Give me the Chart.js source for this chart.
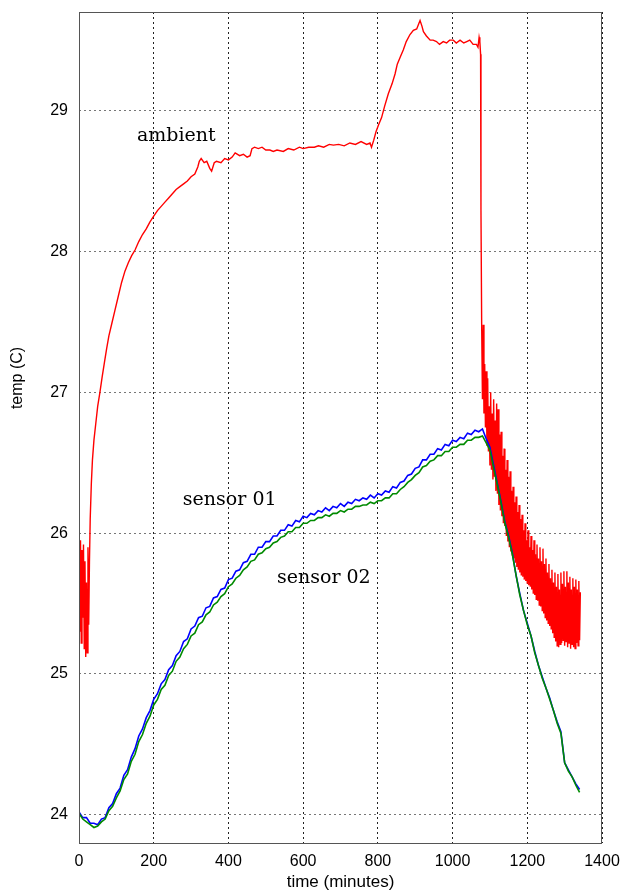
<!DOCTYPE html>
<html>
<head>
<meta charset="utf-8">
<title>temperature log</title>
<script src="https://cdn.jsdelivr.net/npm/chart.js@4.4.1/dist/chart.umd.min.js"></script>
<style>
  html, body { margin: 0; padding: 0; background: #fff; }
  canvas { display: block; }
</style>
</head>
<body>
<canvas id="tempChart" width="626" height="896"></canvas>
<script>
// ambient probe: minutes / degrees C
const ambientTime = [
  0, 2, 4, 6, 8, 10, 12, 14, 16, 18, 20, 22, 24, 26, 28,
  30, 33, 36, 40, 45, 50, 56, 62, 68, 74, 80, 88, 96, 105, 114, 123, 132, 141,
  150, 160, 170, 180, 190, 200, 210, 220, 230, 240, 250, 260, 270, 280, 290,
  300, 310, 318, 322, 327, 335, 342, 350, 355, 362, 368, 380, 390, 400, 410,
  418, 430, 440, 450, 458, 463, 470, 480, 490, 500, 511, 520, 530, 547, 560,
  575, 590, 600, 615, 630, 641, 655, 670, 681, 695, 710, 725, 740, 755, 770,
  779, 783, 789, 795, 802, 810, 818, 828, 838, 846, 852, 860, 868, 876, 886,
  895, 904, 910, 913, 918, 922, 930, 940, 948, 957, 965, 975, 984, 992, 1002,
  1010, 1020, 1030, 1038, 1046, 1055, 1064, 1068, 1071, 1073, 1075, 1076,
  1078, 1080, 1082, 1084, 1086, 1088, 1090, 1092, 1094, 1096, 1098, 1100,
  1102, 1104, 1106, 1108, 1110, 1112, 1114, 1116, 1118, 1120, 1122, 1124,
  1126, 1128, 1130, 1132, 1134, 1136, 1138, 1140, 1142, 1144, 1146, 1148,
  1150, 1152, 1154, 1156, 1158, 1160, 1162, 1164, 1166, 1168, 1170, 1172,
  1174, 1176, 1178, 1180, 1182, 1184, 1186, 1188, 1190, 1192, 1194, 1196,
  1198, 1200, 1202, 1204, 1206, 1208, 1210, 1212, 1214, 1216, 1218, 1220,
  1222, 1224, 1226, 1228, 1230, 1232, 1234, 1236, 1238, 1240, 1242, 1244,
  1246, 1248, 1250, 1252, 1254, 1256, 1258, 1260, 1262, 1264, 1266, 1268,
  1270, 1272, 1274, 1276, 1278, 1280, 1282, 1284, 1286, 1288, 1290, 1292,
  1294, 1296, 1298, 1300, 1302, 1304, 1306, 1308, 1310, 1312, 1314, 1316,
  1318, 1320, 1322, 1324, 1326, 1328, 1330, 1332, 1334, 1336, 1338, 1340, 1342
];
const ambientTemp = [
  25.93, 25.30, 25.95, 25.22, 25.88, 25.40, 25.92, 25.18, 25.80, 25.12, 25.65, 25.15, 25.90, 25.35, 25.80,
  26.10, 26.35, 26.52, 26.66, 26.78, 26.90, 27.00, 27.11, 27.21, 27.31, 27.40, 27.49, 27.58, 27.68, 27.78, 27.86, 27.92, 27.97,
  28.01, 28.07, 28.12, 28.16, 28.21, 28.25, 28.29, 28.32, 28.35, 28.38, 28.41, 28.44, 28.46, 28.48, 28.50,
  28.53, 28.55, 28.60, 28.64, 28.66, 28.63, 28.64, 28.59, 28.57, 28.63, 28.64, 28.63, 28.66, 28.65, 28.67,
  28.70, 28.68, 28.69, 28.67, 28.68, 28.73, 28.74, 28.73, 28.74, 28.72, 28.72, 28.71, 28.72, 28.71, 28.73,
  28.72, 28.74, 28.73, 28.74, 28.74, 28.75, 28.74, 28.76, 28.755, 28.76, 28.75, 28.77, 28.76, 28.78, 28.76,
  28.77, 28.74, 28.79, 28.85, 28.90, 28.95, 29.03, 29.12, 29.19, 29.26, 29.33, 29.38, 29.43, 29.49, 29.54,
  29.57, 29.58, 29.62, 29.64, 29.60, 29.56, 29.53, 29.50, 29.50, 29.49, 29.47, 29.49, 29.48, 29.50, 29.50,
  29.48, 29.50, 29.48, 29.49, 29.50, 29.47, 29.47, 29.45, 29.52, 29.49, 29.40, 28.30,
  27.45, 26.95, 27.48, 26.85, 27.20, 26.75, 27.15, 26.62, 27.10, 26.58, 26.90, 26.48,
  27.00, 26.45, 26.85, 26.38, 26.95, 26.40, 26.80, 26.30, 26.92, 26.28, 26.88, 26.20,
  26.70, 26.16, 26.72, 26.12, 26.55, 26.07, 26.60, 26.05, 26.45, 25.98, 26.52, 25.94,
  26.40, 25.90, 26.44, 25.87, 26.30, 25.84, 26.33, 25.82, 26.22, 25.79, 26.26, 25.76,
  26.15, 25.74, 26.20, 25.72, 26.10, 25.70, 26.13, 25.69, 26.02, 25.67, 26.07, 25.66,
  25.95, 25.64, 26.02, 25.63, 25.90, 25.62, 25.98, 25.60, 25.88, 25.57, 25.95, 25.56,
  25.85, 25.53, 25.92, 25.52, 25.82, 25.49, 25.90, 25.48, 25.80, 25.45, 25.89, 25.43,
  25.78, 25.40, 25.82, 25.38, 25.72, 25.36, 25.78, 25.34, 25.68, 25.32, 25.74, 25.29,
  25.65, 25.26, 25.72, 25.23, 25.62, 25.20, 25.71, 25.19, 25.60, 25.21, 25.72, 25.22,
  25.64, 25.24, 25.73, 25.20, 25.62, 25.23, 25.73, 25.19, 25.65, 25.22, 25.69, 25.18,
  25.60, 25.21, 25.68, 25.19, 25.62, 25.18, 25.67, 25.22, 25.60, 25.20, 25.66, 25.24, 25.58
];

// both sensors were logged on the same clock
const sensorTime = [
  0, 10, 20, 30, 40, 50, 60, 70, 80, 90, 100, 110, 120, 130, 140, 150, 160, 170, 180, 190,
  200, 210, 220, 230, 240, 250, 260, 270, 280, 290, 300, 310, 320, 330, 340, 350, 360, 370, 380, 390,
  400, 410, 420, 430, 440, 450, 460, 470, 480, 490, 500, 510, 520, 530, 540, 550, 560, 570, 580, 590,
  600, 610, 620, 630, 640, 650, 660, 670, 680, 690, 700, 710, 720, 730, 740, 750, 760, 770, 780, 790,
  800, 810, 820, 830, 840, 850, 860, 870, 880, 890, 900, 910, 920, 930, 940, 950, 960, 970, 980, 990,
  1000, 1010, 1020, 1030, 1040, 1050, 1060, 1070, 1080, 1090, 1100, 1110, 1120, 1130, 1140, 1150, 1160, 1170, 1180, 1190,
  1200, 1210, 1220, 1230, 1240, 1250, 1260, 1270, 1280, 1290, 1300, 1310, 1320, 1330, 1340
];
const sensor01 = [
  24.02, 23.98, 23.98, 23.94, 23.94, 23.93, 23.97, 23.98, 24.05, 24.08, 24.15, 24.19, 24.28, 24.32, 24.41, 24.47, 24.56, 24.61, 24.69, 24.74,
  24.82, 24.86, 24.93, 24.96, 25.03, 25.06, 25.13, 25.16, 25.23, 25.25, 25.32, 25.34, 25.40, 25.41, 25.47, 25.48, 25.54, 25.55, 25.60, 25.61,
  25.67, 25.68, 25.73, 25.74, 25.79, 25.80, 25.85, 25.85, 25.90, 25.90, 25.94, 25.94, 25.98, 25.98, 26.02, 26.02, 26.06, 26.05, 26.09, 26.08,
  26.12, 26.11, 26.14, 26.13, 26.16, 26.15, 26.18, 26.16, 26.19, 26.18, 26.21, 26.19, 26.22, 26.21, 26.24, 26.23, 26.25, 26.24, 26.27, 26.25,
  26.28, 26.27, 26.30, 26.29, 26.33, 26.32, 26.36, 26.37, 26.41, 26.42, 26.46, 26.47, 26.52, 26.52, 26.56, 26.56, 26.60, 26.59, 26.63, 26.62,
  26.66, 26.65, 26.68, 26.67, 26.71, 26.70, 26.73, 26.72, 26.74, 26.67, 26.61, 26.48, 26.35, 26.22, 26.08, 25.98, 25.86, 25.70, 25.57, 25.45,
  25.36, 25.27, 25.16, 25.06, 24.98, 24.90, 24.83, 24.74, 24.66, 24.59, 24.37, 24.32, 24.27, 24.22, 24.18
];
const sensor02 = [
  24.01, 23.97, 23.95, 23.93, 23.91, 23.92, 23.95, 23.97, 24.03, 24.06, 24.12, 24.17, 24.25, 24.29, 24.38, 24.43, 24.52, 24.57, 24.65, 24.70,
  24.78, 24.82, 24.89, 24.92, 24.99, 25.02, 25.09, 25.12, 25.18, 25.21, 25.27, 25.29, 25.35, 25.37, 25.42, 25.44, 25.49, 25.51, 25.55, 25.57,
  25.62, 25.64, 25.68, 25.70, 25.74, 25.76, 25.80, 25.81, 25.85, 25.86, 25.89, 25.90, 25.93, 25.94, 25.97, 25.98, 26.01, 26.01, 26.04, 26.04,
  26.07, 26.07, 26.09, 26.09, 26.11, 26.11, 26.13, 26.12, 26.14, 26.14, 26.16, 26.15, 26.17, 26.17, 26.19, 26.19, 26.20, 26.20, 26.22, 26.21,
  26.23, 26.23, 26.25, 26.25, 26.28, 26.28, 26.31, 26.33, 26.36, 26.38, 26.41, 26.43, 26.47, 26.48, 26.51, 26.52, 26.55, 26.55, 26.58, 26.58,
  26.61, 26.61, 26.63, 26.63, 26.66, 26.66, 26.68, 26.68, 26.69, 26.64, 26.59, 26.46, 26.34, 26.21, 26.07, 25.97, 25.85, 25.70, 25.56, 25.45,
  25.35, 25.27, 25.15, 25.06, 24.97, 24.90, 24.82, 24.74, 24.65, 24.58, 24.37, 24.31, 24.27, 24.21, 24.16
];

const xTicks = [0, 200, 400, 600, 800, 1000, 1200, 1400];
const yTicks = [24, 25, 26, 27, 28, 29];

// curve labels placed in data coordinates (left edge, vertical middle)
const curveLabels = [
  { text: 'ambient', x: 155, y: 28.82 },
  { text: 'sensor 01', x: 278, y: 26.235 },
  { text: 'sensor 02', x: 530, y: 25.68 }
];

const toPoints = (xs, ys) => xs.map((x, i) => ({ x: x, y: ys[i] }));

// frame, curve labels and the rotated y title
const decorations = {
  id: 'decorations',
  afterDatasetsDraw(chart) {
    const { ctx, chartArea, scales } = chart;
    ctx.save();
    ctx.fillStyle = '#000';
    ctx.font = '19px "DejaVu Serif"';
    ctx.textAlign = 'left';
    ctx.textBaseline = 'middle';
    curveLabels.forEach(l => {
      ctx.fillText(l.text, scales.x.getPixelForValue(l.x), scales.y.getPixelForValue(l.y));
    });

    ctx.strokeStyle = '#555';
    ctx.lineWidth = 1;
    ctx.strokeRect(chartArea.left + 0.5, chartArea.top + 0.5,
      chartArea.right - chartArea.left - 1, chartArea.bottom - chartArea.top);

    ctx.translate(18, 378);
    ctx.rotate(-Math.PI / 2);
    ctx.textAlign = 'center';
    ctx.font = '16px "Liberation Sans"';
    ctx.fillText('temp (C)', 0, 0);
    ctx.restore();
  }
};

const ctx = document.getElementById('tempChart').getContext('2d');
new Chart(ctx, {
  type: 'line',
  data: {
    datasets: [
      {
        label: 'ambient',
        data: toPoints(ambientTime, ambientTemp),
        borderColor: '#ff0000',
        borderWidth: 1.4,
        pointRadius: 0,
        fill: false,
        order: 2
      },
      {
        label: 'sensor 01',
        data: toPoints(sensorTime, sensor01),
        borderColor: '#0000ff',
        borderWidth: 1.6,
        pointRadius: 0,
        fill: false,
        order: 1
      },
      {
        label: 'sensor 02',
        data: toPoints(sensorTime, sensor02),
        borderColor: '#008a00',
        borderWidth: 1.6,
        pointRadius: 0,
        fill: false,
        order: 0
      }
    ]
  },
  options: {
    responsive: false,
    animation: false,
    layout: { padding: { top: 12, right: 24, left: 0, bottom: 0 } },
    scales: {
      x: {
        type: 'linear',
        min: 0,
        max: 1400,
        afterBuildTicks: s => { s.ticks = xTicks.map(v => ({ value: v })); },
        afterFit: s => { s.height = 53; s.paddingLeft = 0; s.paddingRight = 0; },
        ticks: {
          color: '#000',
          padding: 9,
          maxRotation: 0,
          callback: v => String(v),
          font: { family: 'Liberation Sans', size: 16 }
        },
        grid: { color: '#222', drawTicks: false },
        border: { display: false, dash: [2, 3] },
        title: {
          display: true,
          text: 'time (minutes)',
          color: '#000',
          font: { family: 'Liberation Sans', size: 17 },
          padding: { top: 0, bottom: 3 }
        }
      },
      y: {
        min: 23.8,
        max: 29.7,
        afterBuildTicks: s => { s.ticks = yTicks.map(v => ({ value: v })); },
        afterFit: s => { s.width = 79; s.paddingTop = 0; s.paddingBottom = 0; },
        ticks: {
          color: '#000',
          padding: 11,
          font: { family: 'Liberation Sans', size: 16 }
        },
        grid: { color: '#777', drawTicks: false },
        border: { display: false, dash: [2, 3] }
      }
    },
    plugins: {
      legend: { display: false },
      tooltip: { enabled: false }
    }
  },
  plugins: [decorations]
});
</script>
</body>
</html>
